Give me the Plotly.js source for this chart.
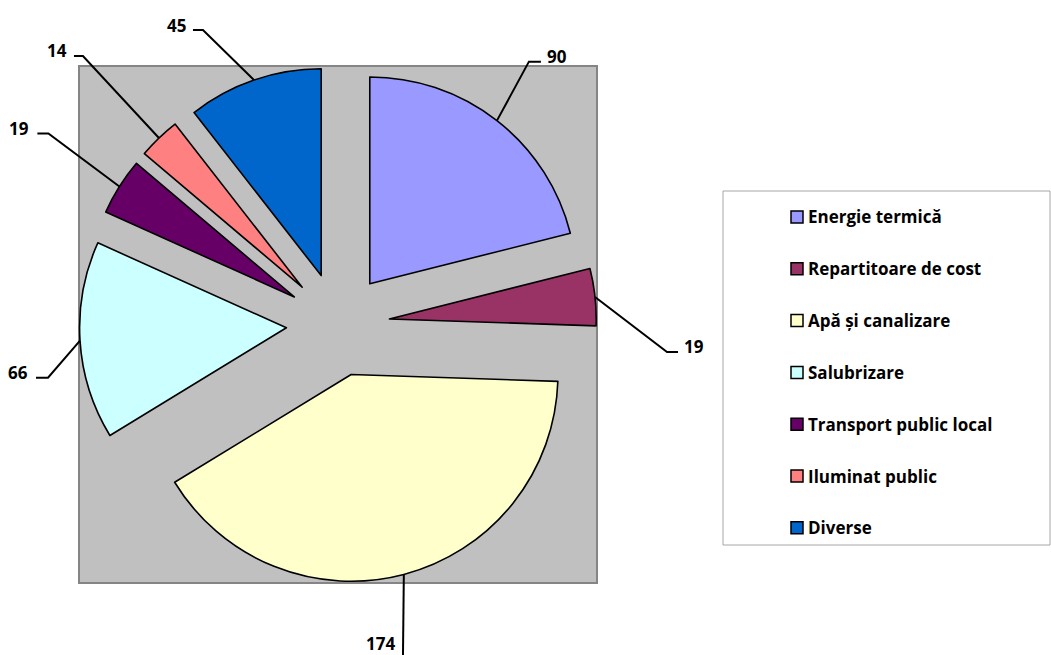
<!DOCTYPE html>
<html><head><meta charset="utf-8">
<script src="https://cdn.plot.ly/plotly-3.0.1.min.js"></script>
<style>html,body{margin:0;padding:0;background:#fff}</style>
</head><body><div id="chart" style="width:1051px;height:655px"></div>
<script>
const categories = ["Energie termică","Repartitoare de cost","Apă și canalizare","Salubrizare","Transport public local","Iluminat public","Diverse"];
const values = [90, 19, 174, 66, 19, 14, 45];
const sliceColors = ["#9999FF","#993366","#FFFFCC","#CCFFFF","#660066","#FF8080","#0066CC"];

const W = 1051, H = 655, M = {l: 79, r: 0, t: 66, b: 72};
const plotW = W - M.l - M.r, plotH = H - M.t - M.b;
const boxPx = 518;
const pull = 0.25;
const r = Math.min(boxPx / 2, plotH / 2) / (1 + pull);
const cx = M.l + boxPx / 2, cy = M.t + plotH / 2;
const px2x = p => (p - M.l) / plotW;
const py2y = p => 1 - (p - M.t) / plotH;
const labelFont = {family: 'Open Sans', size: 17, color: '#000', weight: 700};

// leader-line styling: elbow offset from slice edge, horizontal tail, label offset (px)
const leader = [
  {dx: 32, dy: -59, tail: 12, lx: 4, ly: -5},
  {dx: 72, dy: 55, tail: 11, lx: 4, ly: -5},
  {dx: -1, dy: 95, tail: 0, lx: -6, ly: -26},
  {dx: -32, dy: 37, tail: -12, lx: -6, ly: -5},
  {dx: -71, dy: -53, tail: -11, lx: -6, ly: -5},
  {dx: -76, dy: -82, tail: -9, lx: -5, ly: -6},
  {dx: -51, dy: -50, tail: -10, lx: -5, ly: -5}
];

const total = values.reduce((a, b) => a + b, 0);
const shapes = [];
const annotations = [];

// plot-area background
shapes.push({type: 'rect', xref: 'paper', yref: 'paper', layer: 'below',
  x0: 0, x1: boxPx / plotW, y0: 0, y1: 1,
  fillcolor: '#C0C0C0', line: {color: '#858585', width: 2}});

let cum = 0;
values.forEach((v, i) => {
  const mid = (cum + v / 2) / total * 2 * Math.PI;
  cum += v;
  const R = r * (1 + pull);
  const ex = cx + R * Math.sin(mid), ey = cy - R * Math.cos(mid);
  const L = leader[i];
  const bx = ex + L.dx, by = ey + L.dy;
  const tx = bx + L.tail, ty = by;
  shapes.push({type: 'path', xref: 'paper', yref: 'paper', layer: 'above',
    path: `M${px2x(ex)},${py2y(ey)} L${px2x(bx)},${py2y(by)} L${px2x(tx)},${py2y(ty)}`,
    line: {color: '#000', width: 2}});
  annotations.push({xref: 'paper', yref: 'paper', showarrow: false,
    x: px2x(tx + L.lx), y: py2y(ty + L.ly),
    xanchor: L.lx >= 0 ? 'left' : 'right', yanchor: 'middle',
    text: String(v), font: labelFont});
});

// legend (drawn manually to keep Excel spacing)
const lg = {x0: 723, x1: 1050, y0: 191, y1: 545, first: 217, step: 51.8};
shapes.push({type: 'rect', xref: 'paper', yref: 'paper', layer: 'above',
  x0: px2x(lg.x0), x1: px2x(lg.x1), y0: py2y(lg.y1), y1: py2y(lg.y0),
  fillcolor: 'rgba(0,0,0,0)', line: {color: '#A6A6A6', width: 1}});
categories.forEach((c, i) => {
  const yc = lg.first + i * lg.step;
  shapes.push({type: 'rect', xref: 'paper', yref: 'paper', layer: 'above',
    x0: px2x(791), x1: px2x(803), y0: py2y(yc + 6), y1: py2y(yc - 6),
    fillcolor: sliceColors[i], line: {color: '#000', width: 1.5}});
  annotations.push({xref: 'paper', yref: 'paper', showarrow: false,
    x: px2x(806), y: py2y(yc), xanchor: 'left', yanchor: 'middle',
    text: c, font: labelFont});
});

const data = [{
  type: 'pie', labels: categories, values: values, sort: false,
  direction: 'clockwise', rotation: 0, pull: pull,
  marker: {colors: sliceColors, line: {color: '#000', width: 1.6}},
  textinfo: 'none', hoverinfo: 'label+value', showlegend: false,
  domain: {x: [0, boxPx / plotW], y: [0, 1]}
}];

const layout = {
  width: W, height: H, margin: M, showlegend: false,
  paper_bgcolor: '#fff', plot_bgcolor: '#fff',
  shapes: shapes, annotations: annotations
};
Plotly.newPlot('chart', data, layout, {displayModeBar: false, staticPlot: true});
</script></body></html>
